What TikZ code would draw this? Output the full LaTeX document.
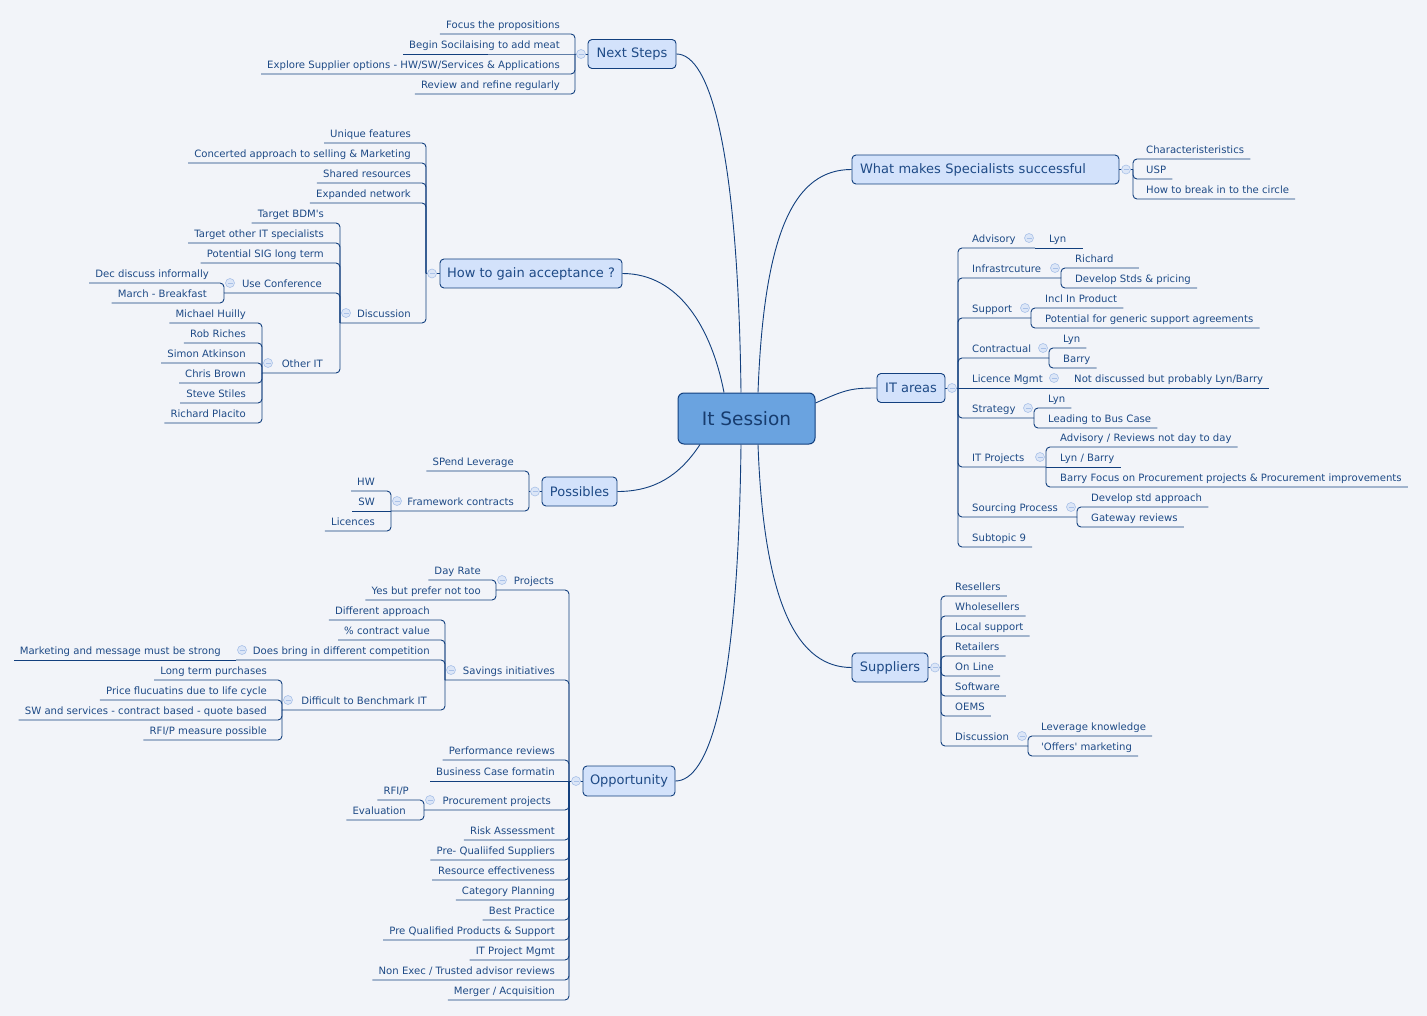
\documentclass[tikz,border=0pt]{standalone}
\usepackage{fontspec}
\setmainfont{DejaVu Sans}
\usetikzlibrary{calc}
\definecolor{bg}{HTML}{F2F4F9}
\definecolor{ink}{HTML}{1E4A86}
\definecolor{ln}{HTML}{123F7E}
\definecolor{tfill}{HTML}{D3E2FB}
\definecolor{cfill}{HTML}{6AA3E0}
\definecolor{ctext}{HTML}{173C6E}
\definecolor{collf}{HTML}{DCE6F7}
\definecolor{colld}{HTML}{A9C1E8}
\tikzset{
 leaf/.style={font=\fontsize{10.1}{11}\selectfont, text=ink, inner xsep=6pt, inner ysep=0pt, text height=7.5pt, text depth=5.6pt},
 L/.style={leaf, anchor=south east, xshift=6pt, yshift=-10pt},
 R/.style={leaf, anchor=south west, xshift=-6pt, yshift=-10pt},
 topic/.style={draw=ln, fill=tfill, rounded corners=4pt, line width=0.9pt, text=ink, font=\fontsize{13}{15}\selectfont, inner sep=0pt, minimum height=29pt},
 central/.style={draw=ln, fill=cfill, rounded corners=6pt, line width=1pt, text=ctext, font=\fontsize{18.5}{20}\selectfont, inner sep=0pt},
 conn/.style={draw=ln, line width=0.9pt, rounded corners=4pt},
 curve/.style={draw=ln, line width=0.9pt},
}
\newcommand\coll[2]{\fill[collf] (#1,#2) circle (4.5pt); \draw[colld,line width=0.6pt] (#1,#2) circle (4.5pt); \draw[colld,line width=0.8pt] (#1-2.5,#2) -- (#1+2.5,#2);}
\begin{document}
\begin{tikzpicture}[x=1pt,y=-1pt]
\useasboundingbox (0,0) rectangle (1427,1016);
\fill[bg] (0,0) rectangle (1427,1016);

% ---------- root and main topics ----------
\node[central, minimum width=137pt, minimum height=51pt] (root) at (746.5,418.5) {It Session};
\node[topic, minimum width=88pt] (ns) at (632,54) {Next Steps};
\node[topic, minimum width=267pt, text width=251pt, inner xsep=8pt, align=left] (wm) at (985.5,169.5) {What makes Specialists successful};
\node[topic, minimum width=182pt] (hg) at (531,273.5) {How to gain acceptance ?};
\node[topic, minimum width=68pt] (it) at (911,388) {IT areas};
\node[topic, minimum width=75pt] (pos) at (579.5,491.5) {Possibles};
\node[topic, minimum width=76pt] (sup) at (890,667.5) {Suppliers};
\node[topic, minimum width=92pt, minimum height=30pt] (opp) at (629,781) {Opportunity};

% ---------- curves from root ----------
\draw[curve] ($(root.north)+(-5.5,0)$) .. controls (738,150) and (710,54) .. (ns.east);
\draw[curve] ($(root.north)+(11.5,0)$) .. controls (764,230) and (795,169.5) .. (wm.west);
\draw[curve] ($(root.north)+(-22.5,0)$) .. controls (712,330) and (680,273.5) .. (hg.east);
\draw[curve] ($(root.east)+(0,-15.5)$) .. controls (845,390) and (850,388) .. (it.west);
\draw[curve] ($(root.south)+(-46.5,0)$) .. controls (680,475) and (655,491.5) .. (pos.east);
\draw[curve] ($(root.south)+(11.5,0)$) .. controls (764,610) and (800,667.5) .. (sup.west);
\draw[curve] ($(root.south)+(-5.5,0)$) .. controls (738,700) and (708,781) .. (opp.east);

% ---------- Next Steps ----------
\node[L] (ns1) at (560,24) {Focus the propositions};
\node[L] (ns2) at (560,44) {Begin Socilaising to add meat};
\node[L] (ns3) at (560,64) {Explore Supplier options - HW/SW/Services \& Applications};
\node[L] (ns4) at (560,84) {Review and refine regularly};
\coordinate (nsJ) at (575,54);
\draw[conn] (ns.west) -- (nsJ) -- (ns2.south west);
\foreach \c in {ns1,ns3,ns4} \draw[conn] (nsJ) |- (\c.south west);

% ---------- What makes ----------
\node[R] (wm1) at (1146,149) {Characteristeristics};
\node[R] (wm2) at (1146,169) {USP};
\node[R] (wm3) at (1146,189) {How to break in to the circle};
\coordinate (wmJ) at (1133,169.5);
\draw[conn] (wm.east) -- (wmJ);
\foreach \c in {wm1,wm2,wm3} \draw[conn] (wmJ) |- (\c.south east);

% ---------- How to gain acceptance ----------
\node[L] (hg1) at (411,133) {Unique features};
\node[L] (hg2) at (411,153) {Concerted approach to selling \& Marketing};
\node[L] (hg3) at (411,173) {Shared resources};
\node[L] (hg4) at (411,193) {Expanded network};
\node[L] (disc) at (411,313) {Discussion};
\coordinate (hgJ) at (426,273.5);
\coordinate (discJ) at (340,323);
\draw[conn] (hg.west) -- (hgJ);
\foreach \c in {hg1,hg2,hg3,hg4} \draw[conn] (hgJ) |- (\c.south west);
\draw[conn] (hgJ) |- (discJ);
\node[L] (d1) at (324,213) {Target BDM\textquotesingle s};
\node[L] (d2) at (324,233) {Target other IT specialists};
\node[L] (d3) at (324,253) {Potential SIG long term};
\node[L] (usec) at (322,283) {Use Conference};
\node[L] (oth) at (323,363) {Other IT};
\coordinate (usecJ) at (224,293);
\coordinate (othJ) at (262,373);
\foreach \c in {d1,d2,d3} \draw[conn] (discJ) |- (\c.south west);
\draw[conn] (discJ) |- (usecJ);
\draw[conn] (discJ) |- (othJ);
\node[L] (u1) at (209,273) {Dec discuss informally};
\node[L] (u2) at (207,293) {March - Breakfast};
\foreach \c in {u1,u2} \draw[conn] (usecJ) |- (\c.south west);
\node[L] (o1) at (246,313) {Michael Huilly};
\node[L] (o2) at (246,333) {Rob Riches};
\node[L] (o3) at (246,353) {Simon Atkinson};
\node[L] (o4) at (246,373) {Chris Brown};
\node[L] (o5) at (246,393) {Steve Stiles};
\node[L] (o6) at (246,413) {Richard Placito};
\foreach \c in {o1,o2,o3,o4,o5,o6} \draw[conn] (othJ) |- (\c.south west);

% ---------- IT areas ----------
\coordinate (itJ) at (958,388);
\draw[conn] (it.east) -- (itJ);
\node[R] (adv) at (972,238) {Advisory};
\node[R] (inf) at (972,268) {Infrastrcuture};
\node[R] (spt) at (972,308) {Support};
\node[R] (ctr) at (972,348) {Contractual};
\node[R] (lic) at (972,378) {Licence Mgmt};
\node[R] (str) at (972,408) {Strategy};
\node[R] (itp) at (972,457) {IT Projects};
\node[R] (src) at (972,507) {Sourcing Process};
\node[R] (sub9) at (972,537) {Subtopic 9};
\coordinate (advJ) at (1035,248);
\coordinate (infJ) at (1061,278);
\coordinate (sptJ) at (1031,318);
\coordinate (ctrJ) at (1049,358);
\coordinate (licJ) at (1060,388);
\coordinate (strJ) at (1034,418);
\coordinate (itpJ) at (1046,467);
\coordinate (srcJ) at (1077,517);
\foreach \c in {advJ,infJ,sptJ,ctrJ,strJ,itpJ,srcJ} \draw[conn] (itJ) |- (\c);
\draw[conn] (itJ) -- (licJ);
\draw[conn] (itJ) |- (sub9.south east);
\node[R] (adv1) at (1049,238) {Lyn};
\draw[conn] (advJ) -- ($(adv1.south east)+(11,0)$);
\node[R] (inf1) at (1075,258) {Richard};
\node[R] (inf2) at (1075,278) {Develop Stds \& pricing};
\draw[conn] (infJ) |- ($(inf1.south east)+(19,0)$);
\draw[conn] (infJ) |- (inf2.south east);
\node[R] (spt1) at (1045,298) {Incl In Product};
\node[R] (spt2) at (1045,318) {Potential for generic support agreements};
\foreach \c in {spt1,spt2} \draw[conn] (sptJ) |- (\c.south east);
\node[R] (ctr1) at (1063,338) {Lyn};
\node[R] (ctr2) at (1063,358) {Barry};
\foreach \c in {ctr1,ctr2} \draw[conn] (ctrJ) |- (\c.south east);
\node[R] (lic1) at (1074,378) {Not discussed but probably Lyn/Barry};
\draw[conn] (licJ) -- (lic1.south east);
\node[R] (str1) at (1048,398) {Lyn};
\node[R] (str2) at (1048,418) {Leading to Bus Case};
\foreach \c in {str1,str2} \draw[conn] (strJ) |- (\c.south east);
\node[R] (itp1) at (1060,437) {Advisory / Reviews not day to day};
\node[R] (itp2) at (1060,457) {Lyn / Barry};
\node[R] (itp3) at (1060,477) {Barry Focus on Procurement projects \& Procurement improvements};
\foreach \c in {itp1,itp3} \draw[conn] (itpJ) |- (\c.south east);
\draw[conn] (itpJ) -- (itp2.south east);
\node[R] (src1) at (1091,497) {Develop std approach};
\node[R] (src2) at (1091,517) {Gateway reviews};
\foreach \c in {src1,src2} \draw[conn] (srcJ) |- (\c.south east);

% ---------- Suppliers ----------
\coordinate (supJ) at (941,667.5);
\draw[conn] (sup.east) -- (supJ);
\node[R] (s1) at (955,586) {Resellers};
\node[R] (s2) at (955,606) {Wholesellers};
\node[R] (s3) at (955,626) {Local support};
\node[R] (s4) at (955,646) {Retailers};
\node[R] (s5) at (955,666) {On Line};
\node[R] (s6) at (955,686) {Software};
\node[R] (s7) at (955,706) {OEMS};
\node[R] (sd) at (955,736) {Discussion};
\coordinate (sdJ) at (1028,746);
\foreach \c in {s1,s2,s3,s4,s5,s6,s7} \draw[conn] (supJ) |- (\c.south east);
\draw[conn] (supJ) |- (sdJ);
\node[R] (sd1) at (1041,726) {Leverage knowledge};
\node[R] (sd2) at (1041,746) {\textquotesingle Offers\textquotesingle\ marketing};
\foreach \c in {sd1,sd2} \draw[conn] (sdJ) |- (\c.south east);

% ---------- Possibles ----------
\coordinate (posJ) at (529,491.5);
\draw[conn] (pos.west) -- (posJ);
\node[L] (p1) at (514,461) {SPend Leverage};
\node[L] (fw) at (514,501) {Framework contracts};
\coordinate (fwJ) at (391,511);
\draw[conn] (posJ) |- (p1.south west);
\draw[conn] (posJ) |- (fwJ);
\node[L] (fw1) at (375,481) {HW};
\node[L] (fw2) at (375,501) {SW};
\node[L] (fw3) at (375,521) {Licences};
\draw[conn] (fwJ) |- (fw1.south west);
\draw[conn] (fwJ) -- (fw2.south west);
\draw[conn] (fwJ) |- (fw3.south west);

% ---------- Opportunity ----------
\coordinate (oppJ) at (569,781);
\draw[conn] (opp.west) -- (oppJ);
\node[L] (prj) at (554,580) {Projects};
\node[L] (sav) at (555,670) {Savings initiatives};
\node[L] (op1) at (555,750) {Performance reviews};
\node[L] (op2) at (555,771) {Business Case formatin};
\node[L] (prc) at (551,800) {Procurement projects};
\node[L] (op3) at (555,830) {Risk Assessment};
\node[L] (op4) at (555,850) {Pre- Qualiifed Suppliers};
\node[L] (op5) at (555,870) {Resource effectiveness};
\node[L] (op6) at (555,890) {Category Planning};
\node[L] (op7) at (555,910) {Best Practice};
\node[L] (op8) at (555,930) {Pre Qualified Products \& Support};
\node[L] (op9) at (555,950) {IT Project Mgmt};
\node[L] (op10) at (555,970) {Non Exec / Trusted advisor reviews};
\node[L] (op11) at (555,990) {Merger / Acquisition};
\coordinate (prjJ) at (496,590);
\coordinate (savJ) at (445,680);
\coordinate (prcJ) at (424,810);
\draw[conn] (oppJ) |- (prjJ);
\draw[conn] (oppJ) |- (savJ);
\draw[conn] (oppJ) |- (prcJ);
\draw[conn] (oppJ) -- (op2.south west);
\foreach \c in {op1,op3,op4,op5,op6,op7,op8,op9,op10,op11} \draw[conn] (oppJ) |- (\c.south west);
\node[L] (pj1) at (481,570) {Day Rate};
\node[L] (pj2) at (481,590) {Yes but prefer not too};
\foreach \c in {pj1,pj2} \draw[conn] (prjJ) |- (\c.south west);
\node[L] (sv1) at (430,610) {Different approach};
\node[L] (sv2) at (430,630) {\% contract value};
\node[L] (dbr) at (430,650) {Does bring in different competition};
\node[L] (dif) at (427,700) {Difficult to Benchmark IT};
\coordinate (dbrJ) at (236,660);
\coordinate (difJ) at (282,710);
\foreach \c in {sv1,sv2} \draw[conn] (savJ) |- (\c.south west);
\draw[conn] (savJ) |- (dbrJ);
\draw[conn] (savJ) |- (difJ);
\node[L] (db1) at (221,650) {Marketing and message must be strong};
\draw[conn] (dbrJ) -- (db1.south west);
\node[L] (df1) at (267,670) {Long term purchases};
\node[L] (df2) at (267,690) {Price flucuatins due to life cycle};
\node[L] (df3) at (267,710) {SW and services - contract based - quote based};
\node[L] (df4) at (267,730) {RFI/P measure possible};
\foreach \c in {df1,df2,df3,df4} \draw[conn] (difJ) |- (\c.south west);
\node[L] (pc1) at (409,790) {RFI/P};
\node[L] (pc2) at (406,810) {Evaluation};
\foreach \c in {pc1,pc2} \draw[conn] (prcJ) |- (\c.south west);

% ---------- collapse markers ----------
\coll{581}{54}
\coll{1126}{169.5}
\coll{432}{273.5}
\coll{346}{313}
\coll{230}{283}
\coll{268}{363}
\coll{952}{388}
\coll{1029}{238}
\coll{1055}{268}
\coll{1025}{308}
\coll{1043}{348}
\coll{1054}{378}
\coll{1028}{408}
\coll{1040}{457}
\coll{1071}{507}
\coll{935}{667.5}
\coll{1022}{736}
\coll{535}{491.5}
\coll{397}{501}
\coll{576}{781}
\coll{502}{580}
\coll{451}{670}
\coll{242}{650}
\coll{288}{700}
\coll{430}{800}
\end{tikzpicture}
\end{document}
